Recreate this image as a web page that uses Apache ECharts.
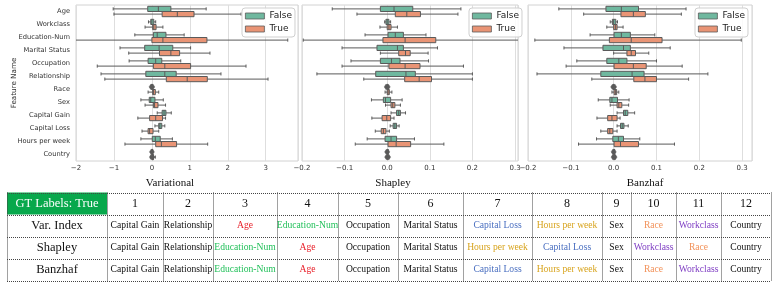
<!DOCTYPE html>
<html>
<head>
<meta charset="utf-8">
<script src="https://cdn.jsdelivr.net/npm/echarts@6.0.0/dist/echarts.min.js"></script>
<style>
html,body{margin:0;padding:0;background:#fff;}
#chart{width:777px;height:285px;}
</style>
</head>
<body>
<div id="chart"></div>
<script>
// ---------------- DATA ----------------
const features = ['Age','Workclass','Education-Num','Marital Status','Occupation','Relationship','Race','Sex','Capital Gain','Capital Loss','Hours per week','Country'];
const groupNames = ['False','True'];
const methodTitles = ['Variational','Shapley','Banzhaf'];

// [min, q1, median, q3, max] per feature
const varFalse = [
  [-1.02,-0.11,0.17,0.50,1.43],[-0.09,-0.03,0.00,0.05,0.10],[-0.45,0.04,0.14,0.37,0.85],
  [-0.84,-0.19,0.19,0.55,1.02],[-0.60,-0.10,0.10,0.26,0.76],[-1.34,-0.16,0.34,0.64,1.82],
  [-0.02,-0.01,0.00,0.01,0.02],[-0.29,-0.07,-0.03,0.08,0.30],[0.14,0.27,0.32,0.37,0.51],
  [0.08,0.18,0.21,0.26,0.34],[-0.29,0.01,0.09,0.22,0.54],[-0.01,-0.005,0.00,0.005,0.01]
];
const varTrue = [
  [-1.00,0.27,0.67,1.11,2.35],[-0.18,0.02,0.05,0.11,0.29],[-2.10,0.00,0.29,1.45,3.58],
  [-0.61,0.20,0.50,0.73,1.53],[-1.44,0.04,0.34,1.02,2.48],[-1.24,0.38,0.93,1.46,3.06],
  [-0.10,0.02,0.04,0.09,0.18],[-0.18,0.04,0.07,0.16,0.36],[-0.37,-0.06,0.10,0.28,0.36],
  [-0.26,-0.10,-0.06,0.03,0.18],[-0.71,0.10,0.25,0.65,1.47],[-0.04,0.00,0.02,0.04,0.09]
];
const shapFalse = [
  [-0.129,-0.016,0.016,0.060,0.173],[-0.006,-0.003,0.000,0.004,0.008],[-0.052,0.002,0.019,0.038,0.091],
  [-0.106,-0.024,0.024,0.038,0.118],[-0.085,-0.016,0.010,0.030,0.097],[-0.165,-0.027,0.044,0.066,0.200],
  [-0.002,-0.001,0.000,0.001,0.002],[-0.037,-0.009,-0.004,0.008,0.035],[0.009,0.022,0.027,0.031,0.043],
  [0.007,0.014,0.018,0.022,0.028],[-0.047,-0.005,0.009,0.022,0.064],[-0.001,0.000,0.000,0.0005,0.001]
];
const shapTrue = [
  [-0.071,0.019,0.046,0.078,0.166],[-0.017,0.000,0.004,0.009,0.024],[-0.197,-0.010,0.042,0.114,0.320],
  [-0.016,0.027,0.043,0.054,0.096],[-0.106,0.004,0.042,0.077,0.179],[-0.055,0.041,0.075,0.104,0.200],
  [-0.005,0.000,0.002,0.005,0.011],[-0.004,0.009,0.013,0.018,0.031],[-0.036,-0.012,-0.001,0.008,0.016],
  [-0.028,-0.014,-0.009,-0.003,0.005],[-0.075,0.002,0.021,0.055,0.133],[-0.002,0.000,0.001,0.002,0.004]
];
const banzFalse = [
  [-0.128,-0.018,0.018,0.058,0.169],[-0.008,-0.003,0.000,0.005,0.009],[-0.055,0.001,0.018,0.039,0.096],
  [-0.116,-0.025,0.023,0.039,0.132],[-0.086,-0.016,0.012,0.031,0.100],[-0.179,-0.030,0.043,0.071,0.220],
  [-0.002,-0.001,0.000,0.001,0.002],[-0.036,-0.009,-0.004,0.009,0.036],[0.008,0.023,0.027,0.033,0.049],
  [0.008,0.016,0.020,0.024,0.034],[-0.040,-0.002,0.011,0.023,0.061],[-0.001,0.000,0.000,0.0005,0.001]
];
const banzTrue = [
  [-0.070,0.017,0.046,0.074,0.158],[-0.016,0.000,0.004,0.008,0.022],[-0.184,-0.010,0.041,0.113,0.298],
  [0.000,0.031,0.041,0.051,0.082],[-0.111,0.001,0.046,0.076,0.160],[-0.051,0.047,0.073,0.100,0.175],
  [-0.004,0.001,0.004,0.007,0.012],[-0.008,0.008,0.012,0.019,0.035],[-0.039,-0.014,-0.004,0.008,0.015],
  [-0.030,-0.014,-0.009,-0.002,0.008],[-0.082,0.001,0.016,0.058,0.142],[-0.002,0.000,0.001,0.002,0.004]
];
// outlier points: [feature, group, value]
const varFliers  = [['Race','False',-0.03],['Race','False',0.0],['Race','False',0.03],['Country','False',-0.02],['Country','False',0.02],['Country','True',-0.02],['Country','True',0.03]];
const shapFliers = [['Race','False',-0.003],['Race','False',0.0],['Race','False',0.003],['Country','False',-0.002],['Country','False',0.002],['Country','True',-0.002],['Country','True',0.004]];
const banzFliers = [['Race','False',-0.003],['Race','False',0.0],['Race','False',0.003],['Country','False',-0.002],['Country','False',0.002],['Country','True',-0.002],['Country','True',0.004]];

// x-axis ranges and tick step
const xMins = [-2, -0.2, -0.2];
const xMaxs = [3.85, 0.307, 0.323];
const xSteps = [1, 0.1, 0.1];

// table
const rankHeader = 'GT Labels: True';
const rankCols = ['1','2','3','4','5','6','7','8','9','10','11','12'];
const rowNames = ['Var. Index','Shapley','Banzhaf'];
const rankVar  = ['Capital Gain','Relationship','Age','Education-Num','Occupation','Marital Status','Capital Loss','Hours per week','Sex','Race','Workclass','Country'];
const rankShap = ['Capital Gain','Relationship','Education-Num','Age','Occupation','Marital Status','Hours per week','Capital Loss','Sex','Workclass','Race','Country'];
const rankBanz = ['Capital Gain','Relationship','Education-Num','Age','Occupation','Marital Status','Capital Loss','Hours per week','Sex','Race','Workclass','Country'];

// ---------------- STYLE ----------------
const boxColors = ['#6fb89f', '#e99475'];
const edge = '#5a5a5a';
const featColors = {'Age':'#e8202a','Education-Num':'#22c05a','Capital Loss':'#4a6fc0','Hours per week':'#d8a41e','Race':'#f2925a','Workclass':'#8040c4'};
const sans = 'DejaVu Sans';
const serif = 'Liberation Serif';

const gridBoxes = [
  {left:76, top:5, width:222, height:156},
  {left:302, top:5, width:216, height:156},
  {left:528, top:5, width:224, height:156}
];
const legendLefts = [242, 469, 695];
const titleXs = [170, 393, 645];

function makeBoxRender(side){
  return function(params, api){
    const cat = api.value(0);
    const cs = params.coordSys;
    const c = api.coord([0, cat]);
    const band = api.size([0, 1])[1];
    const h = band * 0.4;
    const top = side < 0 ? c[1] - h : c[1];
    const mid = top + h / 2;
    const xl = cs.x, xr = cs.x + cs.width;
    const X = v => api.coord([v, cat])[0];
    const cl = x => Math.max(xl, Math.min(xr, x));
    const mn = X(api.value(1)), q1 = X(api.value(2)), md = X(api.value(3)), q3 = X(api.value(4)), mx = X(api.value(5));
    const ls = {stroke: edge, lineWidth: 1};
    const capH = h * 0.6;
    const ch = [
      {type:'line', shape:{x1:cl(mn), y1:mid, x2:q1, y2:mid}, style:ls},
      {type:'line', shape:{x1:q3, y1:mid, x2:cl(mx), y2:mid}, style:ls}
    ];
    if (mn >= xl) ch.push({type:'line', shape:{x1:mn, y1:mid-capH/2, x2:mn, y2:mid+capH/2}, style:ls});
    if (mx <= xr) ch.push({type:'line', shape:{x1:mx, y1:mid-capH/2, x2:mx, y2:mid+capH/2}, style:ls});
    ch.push({type:'rect', shape:{x:q1, y:top, width:Math.max(q3-q1, 1), height:h}, style:{fill: api.visual('color'), stroke: edge, lineWidth: 1}});
    ch.push({type:'line', shape:{x1:md, y1:top, x2:md, y2:top+h}, style:ls});
    return {type:'group', children: ch};
  };
}
function renderFlier(params, api){
  const cat = api.value(0);
  const side = api.value(2);
  const band = api.size([0, 1])[1];
  const h = band * 0.4;
  const p = api.coord([api.value(1), cat]);
  const y = side === 0 ? p[1] - h/2 : p[1] + h/2;
  return {type:'polygon', shape:{points:[[p[0], y-2.6],[p[0]+1.7, y],[p[0], y+2.6],[p[0]-1.7, y]]}, style:{fill: edge, stroke: edge, lineWidth: 0.5}};
}

const statSets = [[varFalse, varTrue],[shapFalse, shapTrue],[banzFalse, banzTrue]];
const flierSets = [varFliers, shapFliers, banzFliers];

const grids = [], xAxes = [], yAxes = [], series = [], legends = [];
for (let g = 0; g < 3; g++) {
  grids.push(Object.assign({show:true, borderColor:'#d2d2d2', borderWidth:1, backgroundColor:'#fff'}, gridBoxes[g]));
  const step = xSteps[g];
  xAxes.push({
    type:'value', gridIndex:g, min:xMins[g], max:xMaxs[g], interval:step,
    axisLine:{show:false}, axisTick:{show:false},
    splitLine:{show:true, lineStyle:{color:'#dedede', width:1}},
    axisLabel:{fontSize:7, color:'#333', fontFamily:sans, margin:4, showMaxLabel:false,
      formatter: v => (step < 1 ? v.toFixed(1) : String(Math.round(v))).replace('-', '\u2212')}
  });
  yAxes.push({
    type:'category', gridIndex:g, data:features, inverse:true,
    axisLine:{show:false}, axisTick:{show:false}, splitLine:{show:false},
    axisLabel:{show: g === 0, fontSize:6.7, color:'#333', fontFamily:sans, margin:6},
    name: g === 0 ? 'Feature Name' : '', nameLocation:'middle', nameGap:58, nameMoveOverlap:false,
    nameTextStyle:{fontSize:7.2, color:'#333', fontFamily:sans}
  });
  for (let s = 0; s < 2; s++) {
    series.push({
      type:'custom', name: groupNames[s], xAxisIndex:g, yAxisIndex:g,
      itemStyle:{color: boxColors[s]},
      renderItem: makeBoxRender(s === 0 ? -1 : 1),
      encode:{x:[1,2,3,4,5], y:0},
      data: statSets[g][s].map((st, i) => [i].concat(st)),
      animation:false
    });
  }
  series.push({
    type:'custom', name:'fliers', xAxisIndex:g, yAxisIndex:g,
    renderItem: renderFlier, encode:{x:1, y:0},
    data: flierSets[g].map(f => [features.indexOf(f[0]), f[2], groupNames.indexOf(f[1])]),
    animation:false
  });
  legends.push({
    orient:'vertical', left:legendLefts[g], top:8, padding:[2,3],
    data: groupNames.map(n => ({name:n, icon:'rect'})),
    itemWidth:19, itemHeight:6, itemGap:1,
    itemStyle:{borderColor:edge, borderWidth:0.8},
    textStyle:{fontSize:9, color:'#222', fontFamily:sans, lineHeight:12, padding:[0,0,0,0]},
    backgroundColor:'rgba(255,255,255,0.85)', borderColor:'#cfcfcf', borderWidth:1, borderRadius:3,
    selectedMode:false
  });
}

// ---------------- TABLE (graphic) ----------------
const colX = [7,107,163,213,277,338,398,463,532,602,631,676,721,771];
const rowY = [192.5,214.5,236.5,258.5,281];
const gfx = [];
methodTitles.forEach((t, i) => gfx.push({type:'text', style:{x:titleXs[i], y:183, text:t, fill:'#111', fontSize:11, fontFamily:serif, align:'center', verticalAlign:'middle'}}));
gfx.push({type:'rect', shape:{x:colX[0], y:rowY[0], width:colX[1]-colX[0], height:rowY[1]-rowY[0]}, style:{fill:'#08a84c'}});
gfx.push({type:'text', style:{x:(colX[0]+colX[1])/2, y:(rowY[0]+rowY[1])/2, text:rankHeader, fill:'#fff', fontSize:12.5, fontFamily:serif, align:'center', verticalAlign:'middle'}});
rankCols.forEach((t, i) => gfx.push({type:'text', style:{x:(colX[i+1]+colX[i+2])/2, y:(rowY[0]+rowY[1])/2, text:t, fill:'#111', fontSize:12, fontFamily:serif, align:'center', verticalAlign:'middle'}}));
[rankVar, rankShap, rankBanz].forEach((row, r) => {
  const yc = (rowY[r+1] + rowY[r+2]) / 2;
  gfx.push({type:'text', style:{x:(colX[0]+colX[1])/2, y:yc, text:rowNames[r], fill:'#111', fontSize:12.5, fontFamily:serif, align:'center', verticalAlign:'middle'}});
  row.forEach((f, i) => gfx.push({type:'text', style:{x:(colX[i+1]+colX[i+2])/2, y:yc, text:f, fill: featColors[f] || '#111', fontSize:9.6, fontFamily:serif, align:'center', verticalAlign:'middle'}}));
});
const dash = {stroke:'#444', lineWidth:1, lineDash:[1,1]};
rowY.forEach(y => { const yy = Math.round(y) + 0.5; gfx.push({type:'line', shape:{x1:colX[0], y1:yy, x2:colX[colX.length-1], y2:yy}, style:dash}); });
colX.forEach(x => { const xx = Math.round(x) + 0.5; gfx.push({type:'line', shape:{x1:xx, y1:rowY[0], x2:xx, y2:rowY[rowY.length-1]}, style:dash}); });

const chart = echarts.init(document.getElementById('chart'), null, {renderer:'canvas'});
chart.setOption({
  animation:false,
  backgroundColor:'#fff',
  textStyle:{fontFamily:sans},
  grid: grids, xAxis: xAxes, yAxis: yAxes, legend: legends, series: series,
  graphic: gfx
});
</script>
</body>
</html>
